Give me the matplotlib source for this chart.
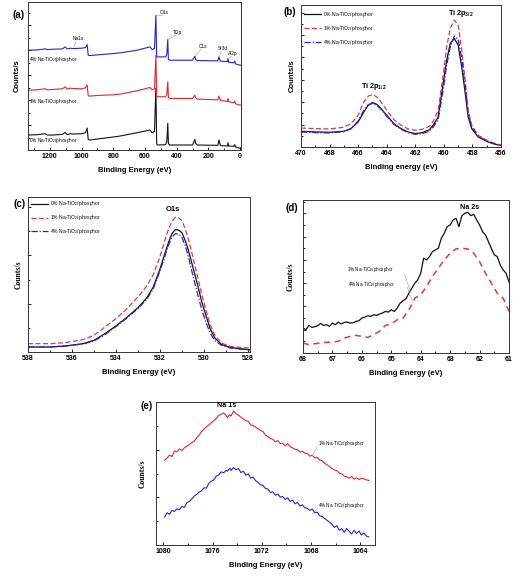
import numpy as np
import matplotlib
matplotlib.use('Agg')
import matplotlib.pyplot as plt
from matplotlib.ticker import MultipleLocator

plt.rcParams['font.family'] = ['Liberation Sans', 'DejaVu Sans']
plt.rcParams['font.weight'] = 'bold'
plt.rcParams['mathtext.default'] = 'regular'

W, H = 527, 583

BLACK = '#111111'
RED = '#e2262c'
BLUE = '#2424d6'
DASHRED = '#e0364a'

labels = ['0% Na-TiO$_2$/phosphor', '1% Na-TiO$_2$/phosphor', '4% Na-TiO$_2$/phosphor']

# (a) survey, counts in arbitrary units
survey_be = [1335, 1280, 1230, 1215, 1180, 1120, 1104, 1090, 1070, 1053,
             1000, 975, 965, 958, 950, 900, 800, 757, 650, 568,
             555, 540, 531, 526, 520, 470, 462, 456, 452, 445,
             300, 285, 280, 270, 140, 133, 128, 122, 80, 76,
             72, 40, 33, 29, 0, -6]
survey_0 = [45, 46, 49, 45, 45, 47, 53, 46, 49, 48,
            49, 52, 66, 32, 30, 33, 39, 42, 52, 60,
            52, 56, 185, 18, 15, 16, 25, 80, 20, 15,
            15, 32, 20, 15, 14, 30, 20, 13, 12, 22,
            12, 11, 16, 9, 5, 5]
survey_1 = [180, 181, 184, 181, 182, 184, 190, 183, 186, 185,
            184, 187, 196, 163, 162, 164, 166, 168, 178, 188,
            181, 184, 285, 162, 160, 160, 168, 205, 158, 155,
            155, 165, 157, 153, 151, 162, 154, 149, 146, 155,
            145, 142, 147, 139, 135, 135]
survey_4 = [300, 301, 304, 302, 303, 304, 310, 304, 306, 305,
            306, 308, 317, 285, 284, 286, 290, 292, 300, 310,
            302, 305, 405, 280, 280, 280, 288, 332, 272, 270,
            270, 282, 271, 269, 268, 280, 271, 267, 266, 275,
            264, 262, 267, 259, 255, 255]
survey_peaks = ['O1s', 'Ti2p', 'C1s', 'Sr3d', 'Al2p']

# (b) Ti 2p
ti_be = [470, 469, 468, 467, 466.5, 466, 465.6, 465.3, 465.0, 464.7, 464.4,
         464, 463.5, 463, 462.5, 462, 461.5, 461, 460.7, 460.4, 460.05,
         459.8, 459.55, 459.27, 459.0, 458.75, 458.5, 458.3, 458.05, 457.6,
         456.9, 456.4, 456]
ti_0 = [47, 45, 44, 47, 55, 75, 105, 125, 133, 128, 115, 95, 70, 55, 45, 40, 43,
        52, 68, 90, 190, 260, 310, 325, 305, 240, 160, 90, 55, 30, 15, 8, 5]
ti_1 = [57, 55, 54, 59, 70, 95, 135, 152, 157, 150, 135, 110, 82, 65, 54, 50, 53,
        62, 80, 110, 215, 300, 355, 380, 365, 290, 195, 110, 65, 35, 18, 10, 6]
ti_4 = [45, 43, 42, 46, 55, 78, 110, 126, 130, 125, 113, 92, 68, 53, 43, 38, 40,
        48, 62, 82, 170, 245, 300, 332, 322, 265, 178, 100, 60, 32, 16, 9, 6]

# (c) O 1s
o_be = [538, 537, 536.3, 535.5, 535, 534.5, 534, 533.5, 533, 532.6, 532.3, 532,
        531.8, 531.6, 531.45, 531.3, 531.15, 531, 530.85, 530.7, 530.5, 530.3,
        530.1, 529.9, 529.7, 529.5, 529.2, 528.8, 528.4, 527.9]
o_0 = [15, 15, 18, 25, 35, 55, 78, 104, 133, 162, 195, 248, 290, 330, 355, 367,
       366, 358, 335, 305, 255, 205, 152, 108, 68, 42, 23, 14, 10, 7]
o_1 = [25, 25, 28, 37, 50, 75, 100, 130, 165, 198, 232, 285, 330, 370, 392, 404,
       403, 394, 370, 338, 285, 230, 175, 125, 80, 50, 27, 17, 14, 12]
o_4 = [15, 15, 18, 24, 33, 52, 76, 102, 130, 158, 190, 242, 282, 322, 345, 355,
       354, 344, 320, 285, 230, 178, 128, 88, 55, 34, 20, 12, 9, 6]

# (d) Na 2s
na2s_be = [68.0, 67.9, 67.8, 67.7, 67.6, 67.5, 67.4, 67.3, 67.2, 67.1,
           67.0, 66.9, 66.8, 66.7, 66.6, 66.5, 66.4, 66.3, 66.2, 66.1,
           66.0, 65.9, 65.8, 65.7, 65.6, 65.5, 65.4, 65.3, 65.2, 65.1,
           65.0, 64.9, 64.8, 64.7, 64.6, 64.5, 64.4, 64.3, 64.2, 64.1,
           64.0, 63.9, 63.8, 63.7, 63.6, 63.5, 63.4, 63.3, 63.2, 63.1,
           63.0, 62.9, 62.8, 62.7, 62.6, 62.5, 62.4, 62.3, 62.2, 62.1,
           62.0, 61.9, 61.8, 61.7, 61.6, 61.5, 61.4, 61.3, 61.2, 61.1, 61.0]
na2s_1 = [75, 70, 83, 77, 79, 82, 89, 83, 85, 80,
          90, 85, 93, 87, 92, 93, 90, 91, 95, 97,
          105, 108, 112, 110, 115, 113, 117, 120, 125, 123,
          130, 125, 135, 150, 157, 163, 180, 195, 210, 220,
          240, 285, 280, 290, 305, 310, 315, 345, 360, 380,
          385, 400, 405, 380, 413, 420, 423, 413, 417, 400,
          385, 365, 355, 335, 315, 295, 290, 265, 250, 240, 213]
na2s_be4 = [68.0, 67.8, 67.6, 67.4, 67.2, 67.0, 66.8, 66.6, 66.4, 66.2, 66.0, 65.8,
            65.6, 65.4, 65.2, 65.0, 64.8, 64.6, 64.4, 64.2, 64.0, 63.8, 63.6, 63.4,
            63.2, 63.0, 62.8, 62.6, 62.4, 62.2, 62.0, 61.8, 61.6, 61.4, 61.2, 61.0]
na2s_4 = [30, 25, 28, 30, 32, 33, 35, 45, 50, 53, 50, 47,
          55, 65, 83, 87, 100, 105, 130, 165, 175, 200, 230, 255,
          280, 300, 313, 315, 313, 300, 275, 240, 210, 180, 165, 125]

# (e) Na 1s
na1s_be = [1079.9, 1079.7, 1079.5, 1079.3, 1079.1, 1078.9, 1078.7, 1078.5, 1078.3, 1078.1,
           1077.9, 1077.7, 1077.5, 1077.3, 1077.1, 1076.9, 1076.7, 1076.5, 1076.3, 1076.1,
           1075.9, 1075.7, 1075.5, 1075.3, 1075.1, 1074.9, 1074.8, 1074.6, 1074.5, 1074.3,
           1074.1, 1073.9, 1073.7, 1073.5, 1073.3, 1073.1, 1072.9, 1072.7, 1072.5, 1072.3,
           1072.1, 1071.9, 1071.7, 1071.5, 1071.3, 1071.1, 1070.9, 1070.7, 1070.5, 1070.3,
           1070.1, 1069.9, 1069.7, 1069.5, 1069.3, 1069.1, 1068.9, 1068.7, 1068.5, 1068.3,
           1068.1, 1067.9, 1067.7, 1067.5, 1067.3, 1067.1, 1066.9, 1066.7, 1066.5, 1066.3,
           1066.1, 1065.9, 1065.7, 1065.5, 1065.3, 1065.1, 1064.9, 1064.7, 1064.5, 1064.3,
           1064.1, 1063.9, 1063.7, 1063.5, 1063.3]
na1s_1 = [255, 262, 270, 266, 283, 280, 289, 284, 292, 297,
          301, 308, 312, 322, 330, 341, 349, 356, 361, 368,
          374, 381, 390, 393, 397, 389, 383, 392, 388, 403,
          395, 391, 384, 379, 374, 372, 361, 359, 355, 349,
          344, 341, 330, 326, 320, 318, 310, 314, 305, 306,
          298, 305, 296, 292, 288, 287, 279, 282, 276, 275,
          267, 270, 262, 263, 256, 253, 246, 241, 236, 230,
          226, 223, 216, 214, 207, 205, 201, 206, 198, 202,
          197, 201, 199, 196, 194]
na1s_4 = [84, 97, 92, 104, 101, 109, 106, 116, 113, 127,
          131, 138, 147, 152, 159, 163, 172, 171, 186, 192,
          196, 207, 211, 220, 217, 225, 222, 231, 224, 233,
          226, 230, 218, 222, 210, 214, 201, 204, 193, 188,
          181, 179, 170, 168, 158, 160, 150, 153, 144, 146,
          137, 142, 131, 135, 124, 128, 117, 121, 112, 110,
          104, 108, 97, 99, 88, 86, 80, 74, 69, 62,
          53, 58, 44, 49, 38, 50, 41, 33, 44, 35,
          42, 30, 36, 27, 24]


def box(x0, y0, x1, y1):
    return [x0 / W, 1 - y1 / H, (x1 - x0) / W, (y1 - y0) / H]


def style_axes(ax, xmaj, xmin, ymaj):
    for s in ax.spines.values():
        s.set_linewidth(0.7)
        s.set_color('#333333')
    ax.xaxis.set_major_locator(MultipleLocator(xmaj))
    ax.xaxis.set_minor_locator(MultipleLocator(xmin))
    ax.yaxis.set_major_locator(MultipleLocator(ymaj))
    ax.yaxis.set_minor_locator(MultipleLocator(ymaj / 2))
    ax.tick_params(which='both', direction='in', top=False, right=False,
                   labelleft=False, width=0.6, labelsize=5, pad=2)
    ax.tick_params(which='major', length=2.5)
    ax.tick_params(which='minor', length=1.5)


def xlab(ax, txt, pad=5):
    ax.set_xlabel(txt, fontsize=5.5, fontweight='bold', labelpad=pad)


def serif_ylab(ax, pad):
    ax.set_ylabel('Counts/s', fontsize=5.5, family='Liberation Serif',
                  fontweight='bold', labelpad=pad)


def panel_tag(x, y, t):
    fig.text(x / W, 1 - y / H, t, fontsize=7, fontweight='bold',
             ha='center', va='center')


def leader(ax, x0, y0, x1, y1):
    ax.plot([x0, x1], [y0, y1], color='#9a9a9a', lw=0.4)


fig = plt.figure(figsize=(W / 100, H / 100), dpi=100)

# ---- (a)
ax = fig.add_axes(box(28, 2, 241, 150))
ax.plot(survey_be, survey_0, color=BLACK, lw=0.8)
ax.plot(survey_be, survey_1, color=RED, lw=0.8)
ax.plot(survey_be, survey_4, color=BLUE, lw=0.8)
ax.set_xlim(1338, -6)
ax.set_ylim(0, 445)
style_axes(ax, 200, 100, 75)
xlab(ax, 'Binding Energy (eV)')
ax.set_ylabel('Counts/s', fontsize=5.5, fontweight='bold', labelpad=5)
fs = 3.4
ax.text(1330, 285, labels[2], fontsize=fs, fontweight='normal', va='top')
ax.text(1330, 160, labels[1], fontsize=fs, fontweight='normal', va='top')
ax.text(1330, 28, labels[0], fontsize=fs, fontweight='normal', va='center')
ax.text(1018, 335, 'Na1s', fontsize=fs, fontweight='normal', ha='center', va='center')
leader(ax, 1035, 326, 1050, 310)
pk_x = [531, 456, 285, 133, 76]
pk_y = [405, 332, 282, 280, 275]
txt_x = [480, 392, 235, 108, 44]
txt_y = [412, 354, 312, 305, 290]
for name, px_, py_, tx, ty in zip(survey_peaks, pk_x, pk_y, txt_x, txt_y):
    ax.text(tx, ty, name, fontsize=fs, fontweight='normal', ha='center', va='center')
    leader(ax, px_, py_, tx + 10, ty - 8)

# ---- (b)
ax = fig.add_axes(box(301, 5, 501, 147))
ax.plot(ti_be, ti_0, color=BLACK, lw=0.9, label=labels[0])
ax.plot(ti_be, ti_1, color=DASHRED, lw=0.9, ls=(0, (4, 2)), label=labels[1])
ax.plot(ti_be, ti_4, color=BLUE, lw=0.9, ls=(0, (5, 1.5, 1, 1.5)), label=labels[2])
ax.set_xlim(470, 456)
ax.set_ylim(0, 425)
style_axes(ax, 2, 1, 67)
xlab(ax, 'Binding energy (eV)')
ax.set_ylabel('Counts/s', fontsize=5.5, fontweight='bold', labelpad=4)
ax.legend(loc='upper left', bbox_to_anchor=(0.0, 0.985), frameon=False,
          prop={'size': 3.6, 'weight': 'normal'},
          handlelength=3.4, labelspacing=0.95, borderaxespad=0.2, handletextpad=0.4)
ax.text(464.9, 180, 'Ti 2p$_{1/2}$', fontsize=5.2, ha='center', va='center')
ax.text(458.8, 400, 'Ti 2p$_{3/2}$', fontsize=5.2, ha='center', va='center')

# ---- (c)
ax = fig.add_axes(box(28, 197, 250, 352))
ax.plot(o_be, o_0, color=BLACK, lw=0.9, label=labels[0])
ax.plot(o_be, o_1, color=DASHRED, lw=0.9, ls=(0, (4, 2)), label=labels[1])
ax.plot(o_be, o_4, color=BLUE, lw=0.9, ls=(0, (5, 1.5, 1, 1.5)), label=labels[2])
ax.set_xlim(538, 527.9)
ax.set_ylim(0, 465)
style_axes(ax, 2, 1, 145)
xlab(ax, 'Binding Energy (eV)')
serif_ylab(ax, 4)
ax.legend(loc='upper left', frameon=False, prop={'size': 3.6, 'weight': 'normal'},
          handlelength=3.4, labelspacing=0.95, borderaxespad=0.1, handletextpad=0.4)
ax.text(531.4, 428, 'O1s', fontsize=5.5, ha='center', va='center')

# ---- (d)
ax = fig.add_axes(box(303, 200, 509, 353))
ax.plot(na2s_be, na2s_1, color=BLACK, lw=0.9)
ax.plot(na2s_be4, na2s_4, color=DASHRED, lw=1.1, ls=(0, (4, 3)))
ax.set_xlim(68, 61)
ax.set_ylim(0, 460)
style_axes(ax, 1, 0.5, 70)
xlab(ax, 'Binding Energy (eV)')
serif_ylab(ax, 6)
ax.text(66.5, 250, labels[1], fontsize=3.3, fontweight='normal', va='center')
ax.text(66.46, 207, labels[2], fontsize=3.3, fontweight='normal', va='center')
leader(ax, 64.55, 238, 64.34, 182)
leader(ax, 64.46, 198, 64.26, 150)
ax.text(62.34, 437, 'Na 2s', fontsize=5.2, ha='center', va='center')

# ---- (e)
ax = fig.add_axes(box(156, 402, 375, 545))
ax.plot(na1s_be, na1s_1, color=RED, lw=0.8)
ax.plot(na1s_be, na1s_4, color=BLUE, lw=0.8)
ax.set_xlim(1080.6, 1062.8)
ax.set_ylim(0, 430)
style_axes(ax, 4, 2, 143)
xlab(ax, 'Binding Energy (eV)')
serif_ylab(ax, 7)
ax.text(1067.4, 305, labels[1], fontsize=3.3, fontweight='normal', va='center')
ax.text(1067.4, 120, labels[2], fontsize=3.3, fontweight='normal', va='center')
leader(ax, 1067.5, 295, 1067.9, 268)
leader(ax, 1067.5, 110, 1067.9, 92)
ax.text(1074.85, 420, 'Na 1s', fontsize=5.2, ha='center', va='center')

panel_tag(19, 15, '(a)')
panel_tag(290, 12, '(b)')
panel_tag(20, 204, '(c)')
panel_tag(292, 208, '(d)')
panel_tag(147, 406, '(e)')

fig.savefig('out.png', dpi=100)
